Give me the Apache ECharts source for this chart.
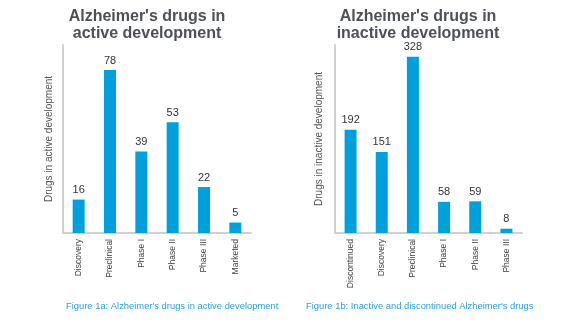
<!DOCTYPE html>
<html>
<head>
<meta charset="utf-8">
<script src="https://cdn.jsdelivr.net/npm/echarts@6/dist/echarts.min.js"></script>
<style>
  html, body { margin: 0; padding: 0; background: #fff; }
  #chart { width: 574px; height: 322px; }
</style>
</head>
<body>
<div id="chart"></div>
<script>
// Active development pipeline
var activeStages = ['Discovery', 'Preclinical', 'Phase I', 'Phase II', 'Phase III', 'Marketed'];
var activeCounts = [16, 78, 39, 53, 22, 5];

// Inactive / discontinued pipeline
var inactiveStages = ['Discontinued', 'Discovery', 'Preclinical', 'Phase I', 'Phase II', 'Phase III'];
var inactiveCounts = [192, 151, 328, 58, 59, 8];

var FONT = 'Liberation Sans, Arial, sans-serif';
var BAR = '#00a0dc';
var AXIS = '#d0d0d0';

function xAxisFor(idx, cats) {
  return {
    type: 'category', gridIndex: idx, data: cats,
    axisLine: { lineStyle: { color: AXIS, width: 2 } },
    axisTick: { show: false },
    axisLabel: { rotate: 90, fontSize: 8.5, color: '#444', fontFamily: FONT, margin: 6, interval: 0 }
  };
}
function yAxisFor(idx, max, name, gap) {
  return {
    type: 'value', gridIndex: idx, min: 0, max: max,
    name: name, nameLocation: 'middle', nameGap: gap,
    nameTextStyle: { fontSize: 10, color: '#555', fontFamily: FONT },
    axisLine: { show: true, lineStyle: { color: AXIS, width: 2 } },
    axisTick: { show: false }, axisLabel: { show: false }, splitLine: { show: false }
  };
}
function barSeries(idx, values) {
  return {
    type: 'bar', xAxisIndex: idx, yAxisIndex: idx, data: values,
    barWidth: 12, itemStyle: { color: BAR },
    label: { show: true, position: 'top', distance: 4, fontSize: 11, color: '#333', fontFamily: FONT }
  };
}

var chart = echarts.init(document.getElementById('chart'), null, { renderer: 'canvas' });
chart.setOption({
  animation: false,
  title: [
    { text: "Alzheimer's drugs in\nactive development", left: 147, top: 8, padding: 0, textAlign: 'center',
      textStyle: { fontSize: 16, fontWeight: 'bold', color: '#4d5157', fontFamily: FONT, lineHeight: 17 } },
    { text: "Alzheimer's drugs in\ninactive development", left: 418, top: 8, padding: 0, textAlign: 'center',
      textStyle: { fontSize: 16, fontWeight: 'bold', color: '#4d5157', fontFamily: FONT, lineHeight: 17 } },
    { text: "Figure 1a: Alzheimer's drugs in active development", left: 66, top: 302, padding: 0,
      textStyle: { fontSize: 9.4, fontWeight: 'normal', color: '#2a9fd8', fontFamily: FONT } },
    { text: "Figure 1b: Inactive and discontinued Alzheimer's drugs", left: 306, top: 302, padding: 0,
      textStyle: { fontSize: 9.4, fontWeight: 'normal', color: '#2a9fd8', fontFamily: FONT } }
  ],
  grid: [
    { left: 63, right: 323, top: 45, bottom: 89 },
    { left: 335, right: 52, top: 45, bottom: 89 }
  ],
  xAxis: [xAxisFor(0, activeStages), xAxisFor(1, inactiveStages)],
  yAxis: [
    yAxisFor(0, 90, 'Drugs in active development', 9),
    yAxisFor(1, 350, 'Drugs in inactive development', 11)
  ],
  series: [barSeries(0, activeCounts), barSeries(1, inactiveCounts)]
});
</script>
</body>
</html>
